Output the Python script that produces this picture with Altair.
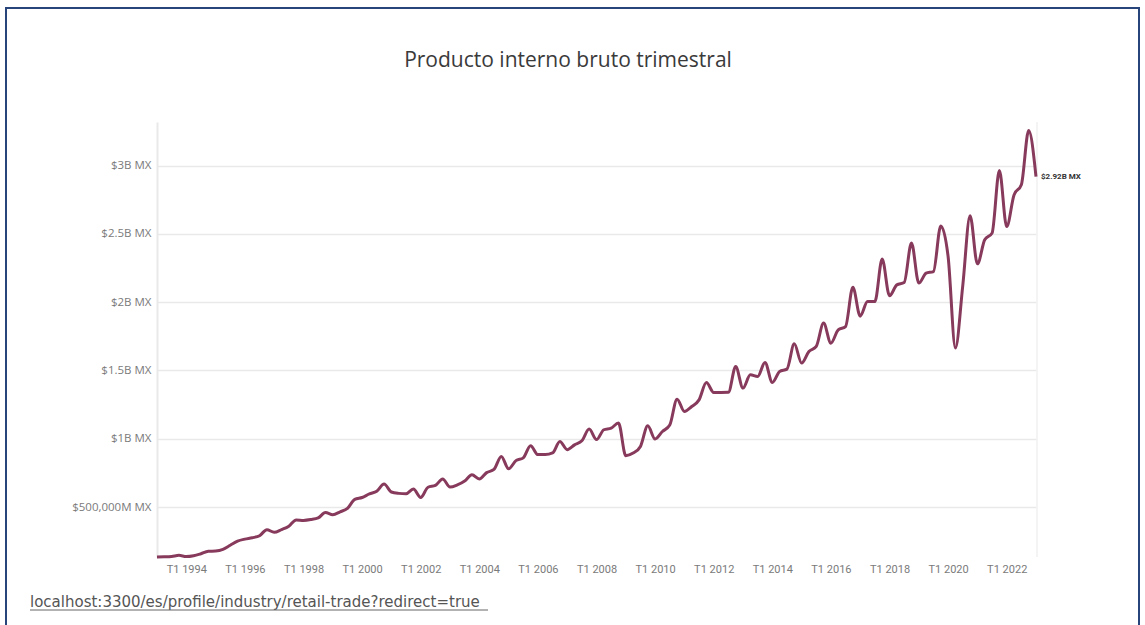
import altair as alt
import pandas as pd

# Quarterly GDP, trillions of pesos (T1 1993 .. T1 2023)
years = list(range(1993, 2024))
quarters = ["T1", "T2", "T3", "T4"]
gdp = [
    0.134, 0.135, 0.138, 0.146,
    0.137, 0.143, 0.158, 0.176,
    0.178, 0.190, 0.220, 0.250,
    0.265, 0.275, 0.290, 0.334,
    0.315, 0.335, 0.360, 0.405,
    0.402, 0.408, 0.420, 0.460,
    0.444, 0.465, 0.490, 0.556,
    0.570, 0.596, 0.615, 0.668,
    0.610, 0.600, 0.597, 0.632,
    0.570, 0.645, 0.658, 0.705,
    0.646, 0.662, 0.690, 0.736,
    0.705, 0.752, 0.775, 0.870,
    0.780, 0.840, 0.860, 0.949,
    0.884, 0.884, 0.896, 0.980,
    0.920, 0.955, 0.985, 1.071,
    0.994, 1.066, 1.078, 1.115,
    0.876, 0.895, 0.944, 1.095,
    0.998, 1.053, 1.100, 1.290,
    1.200, 1.236, 1.285, 1.412,
    1.339, 1.339, 1.340, 1.529,
    1.371, 1.469, 1.456, 1.559,
    1.412, 1.493, 1.510, 1.695,
    1.554, 1.639, 1.676, 1.847,
    1.700, 1.798, 1.822, 2.110,
    1.898, 2.005, 2.005, 2.316,
    2.047, 2.127, 2.144, 2.433,
    2.140, 2.213, 2.225, 2.559,
    2.335, 1.664, 2.120, 2.633,
    2.281, 2.457, 2.506, 2.964,
    2.554, 2.786, 2.860, 3.257,
    2.920,
]
periods = [f"{q} {y}" for y in years for q in quarters][: len(gdp)]
x_ticks = [f"T1 {y}" for y in range(1994, 2023, 2)]
y_ticks = [0.5, 1.0, 1.5, 2.0, 2.5, 3.0]

title_text = "Producto interno bruto trimestral"
url_text = "localhost:3300/es/profile/industry/retail-trade?redirect=true"

W, H = 879, 435
LEFT, TOP = 157, 122
LINE_COLOR = "#873a5b"
FONT = "Roboto"
WIDE_FONT = "Open Sans"

df = pd.DataFrame({"periodo": periods, "valor": gdp, "idx": range(len(gdp))})

x_enc = alt.X(
    "periodo:O",
    sort=None,
    scale=alt.Scale(type="point", padding=0, domain=periods),
    axis=alt.Axis(
        values=x_ticks, labelAngle=0, title=None, domain=False, ticks=False,
        labelColor="#7a7a7a", labelFontSize=11, labelFont=FONT, labelPadding=6,
        labelOverlap=False, grid=False,
    ),
)
y_enc = alt.Y(
    "valor:Q",
    scale=alt.Scale(domain=[0.134, 3.32], zero=False, nice=False),
    axis=alt.Axis(
        values=y_ticks, title=None, ticks=False, labelPadding=6,
        labelColor="#7a7a7a", labelFontSize=11.5, labelFont=WIDE_FONT,
        domainColor="#e9e9e9", domainWidth=2,
        gridColor="#e9e9e9", gridWidth=1.5,
        labelExpr="datum.value < 1 ? '$' + format(datum.value * 1000000, ',.0f') + 'M MX' : '$' + format(datum.value, '.2~f') + 'B MX'",
    ),
)

base = alt.Chart(df)

line = base.mark_line(
    color=LINE_COLOR, strokeWidth=3, interpolate="monotone"
).encode(x=x_enc, y=y_enc)

end_label = base.transform_filter(
    alt.datum.idx == len(gdp) - 1
).transform_calculate(
    etiqueta="'$' + format(datum.valor, '.2f') + 'B MX'"
).mark_text(
    align="left", baseline="middle", dx=5, fontSize=8, fontWeight="bold",
    font=FONT, color="#333333",
).encode(x=x_enc, y=y_enc, text="etiqueta:N")

right_edge = alt.Chart(pd.DataFrame({"k": [0]})).mark_rule(
    color="#f1f1f1", strokeWidth=1.5
).encode(x=alt.value(W + 1), y=alt.value(0), y2=alt.value(H))

title = alt.Chart(pd.DataFrame({"t": [title_text]})).mark_text(
    fontSize=21, font=WIDE_FONT, color="#3a3a3a", align="center", baseline="alphabetic"
).encode(x=alt.value(568 - LEFT), y=alt.value(67 - TOP), text="t:N")

url = alt.Chart(pd.DataFrame({"t": [url_text]})).mark_text(
    fontSize=15, font="DejaVu Sans", color="#555555", align="left", baseline="alphabetic"
).encode(x=alt.value(30 - LEFT), y=alt.value(607 - TOP), text="t:N")

url_rule = alt.Chart(pd.DataFrame({"k": [0]})).mark_rule(
    color="#666666", strokeWidth=1
).encode(x=alt.value(30 - LEFT), x2=alt.value(488 - LEFT), y=alt.value(610 - TOP))

frame = alt.Chart(pd.DataFrame({"k": [0]})).mark_rect(
    fillOpacity=0, stroke="#27457a", strokeWidth=2
).encode(
    x=alt.value(6 - LEFT), x2=alt.value(1139 - LEFT),
    y=alt.value(8 - TOP), y2=alt.value(700),
)

chart = alt.layer(
    right_edge, line, end_label, title, url, url_rule, frame
).properties(
    width=W,
    height=H,
    padding={"left": LEFT, "top": TOP, "right": 1145 - LEFT - W, "bottom": 625 - TOP - H},
    autosize=alt.AutoSizeParams(type="none"),
    background="white",
).configure_view(stroke=None)

chart.save("out.html", embed_options={"renderer": "svg", "actions": False})
